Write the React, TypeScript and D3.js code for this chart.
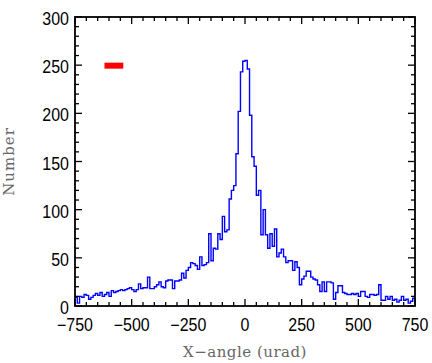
import React from "react";
import * as d3 from "d3";

// Histogram bin counts, 10 urad bins from -750 to 750
const binStart = -750;
const binWidth = 10;
const counts = [
  9, 3, 10, 9, 12, 11, 7, 9, 11, 13,
  11, 14, 10, 12, 14, 10, 16, 14, 15, 16,
  17, 16, 17, 18, 19, 17, 15, 17, 23, 18,
  19, 19, 30, 18, 18, 20, 22, 25, 20, 19,
  26, 27, 27, 18, 26, 26, 27, 34, 29, 37,
  40, 45, 44, 42, 38, 51, 42, 43, 45, 75,
  47, 60, 59, 75, 69, 93, 77, 79, 111, 120,
  125, 158, 202, 243, 254, 255, 246, 198, 155, 145,
  115, 120, 74, 100, 74, 60, 75, 62, 80, 51,
  55, 59, 51, 45, 47, 47, 37, 46, 40, 22,
  28, 31, 36, 36, 30, 28, 27, 22, 15, 25,
  15, 25, 25, 24, 7, 14, 21, 21, 14, 13,
  12, 12, 13, 12, 13, 10, 15, 15, 10, 9,
  12, 12, 11, 12, 22, 6, 6, 10, 7, 10,
  6, 7, 4, 6, 10, 6, 7, 3, 5, 8,
];

const xDomain = [-750, 750];
const yDomain = [0, 300];
const xTicks = [-750, -500, -250, 0, 250, 500, 750];
const yTicks = [0, 50, 100, 150, 200, 250, 300];
const xMinorStep = 50;
const yMinorStep = 10;
const markerX = [-620, -537];
const markerY = 249.5;

const xTitle = "X\u2212angle (urad)";
const yTitle = "Number";

export default function App() {
  const W = 432, H = 363;
  const L = 75, R = 415, T = 17, B = 306;
  const x = d3.scaleLinear().domain(xDomain).range([L, R]);
  const y = d3.scaleLinear().domain(yDomain).range([B, T]);

  const pts: [number, number][] = counts.map((c, i) => [binStart + i * binWidth, c]);
  pts.push([binStart + counts.length * binWidth, counts[counts.length - 1]]);
  const line = d3
    .line<[number, number]>()
    .x((d) => x(d[0]))
    .y((d) => y(d[1]))
    .curve(d3.curveStepAfter);

  const xMinor = d3.range(xDomain[0], xDomain[1] + 1, xMinorStep).filter((v) => !xTicks.includes(v));
  const yMinor = d3.range(yDomain[0], yDomain[1] + 1, yMinorStep).filter((v) => !yTicks.includes(v));
  const major = 7, minor = 4;
  const fmt = (v: number) => (v < 0 ? "\u2212" + Math.abs(v) : String(v));

  return (
    <svg
      width={W}
      height={H}
      style={{ position: "absolute", left: 0, top: 0, background: "#fff" }}
    >
      <rect x={0} y={0} width={W} height={H} fill="#fff" />
      <path d={line(pts) || ""} fill="none" stroke="#0000ff" strokeWidth={1.4} />
      <line
        x1={x(markerX[0])}
        x2={x(markerX[1])}
        y1={y(markerY)}
        y2={y(markerY)}
        stroke="#ff0000"
        strokeWidth={6}
      />
      <g stroke="#000" strokeWidth={1.3}>
        {xTicks.map((v) => (
          <g key={"xM" + v}>
            <line x1={x(v)} x2={x(v)} y1={B} y2={B - major} />
            <line x1={x(v)} x2={x(v)} y1={T} y2={T + major} />
          </g>
        ))}
        {xMinor.map((v) => (
          <g key={"xm" + v}>
            <line x1={x(v)} x2={x(v)} y1={B} y2={B - minor} />
            <line x1={x(v)} x2={x(v)} y1={T} y2={T + minor} />
          </g>
        ))}
        {yTicks.map((v) => (
          <g key={"yM" + v}>
            <line x1={L} x2={L + major} y1={y(v)} y2={y(v)} />
            <line x1={R} x2={R - major} y1={y(v)} y2={y(v)} />
          </g>
        ))}
        {yMinor.map((v) => (
          <g key={"ym" + v}>
            <line x1={L} x2={L + minor} y1={y(v)} y2={y(v)} />
            <line x1={R} x2={R - minor} y1={y(v)} y2={y(v)} />
          </g>
        ))}
      </g>
      <rect x={L} y={T} width={R - L} height={B - T} fill="none" stroke="#000" strokeWidth={1.8} />
      <g fontFamily="'Liberation Sans', Arial, sans-serif" fontSize={16} fill="#000">
        {xTicks.map((v) => (
          <text
            key={"xl" + v}
            transform={`translate(${x(v)}, 331) scale(1, 1.1)`}
            textAnchor="middle"
          >
            {fmt(v)}
          </text>
        ))}
        {yTicks.map((v) => (
          <text
            key={"yl" + v}
            transform={`translate(69, ${y(v) + 8}) scale(1, 1.1)`}
            textAnchor="end"
          >
            {fmt(v)}
          </text>
        ))}
      </g>
      <text
        x={(L + R) / 2}
        y={357}
        textAnchor="middle"
        fontFamily="'DejaVu Serif', serif"
        fontSize={15}
        fill="#666"
        letterSpacing={0.5}
      >
        {xTitle}
      </text>
      <text
        transform={`translate(14, ${(T + B) / 2}) rotate(-90)`}
        textAnchor="middle"
        fontFamily="'DejaVu Serif', serif"
        fontSize={15}
        fill="#666"
        letterSpacing={1}
      >
        {yTitle}
      </text>
    </svg>
  );
}
